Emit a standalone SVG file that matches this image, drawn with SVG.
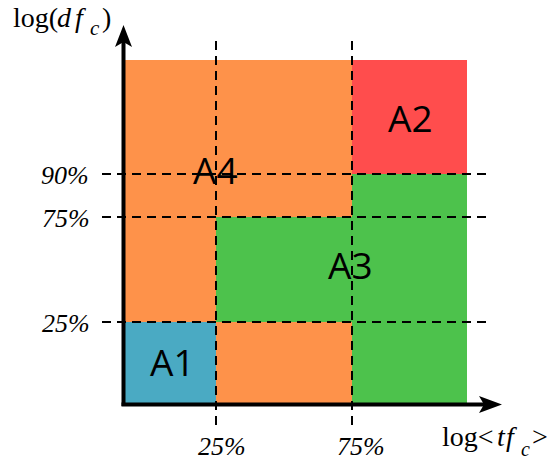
<svg xmlns="http://www.w3.org/2000/svg" width="556" height="461" viewBox="0 0 556 461">
<style>
.orange{fill:#FE924A}
.red{fill:#FF4D4D}
.green{fill:#4DC24C}
.blue{fill:#4AAAC3}
.lbl{font-family:"Open Sans","Noto Sans",sans-serif;font-size:37px;fill:#000}
.math{font-family:"Liberation Serif","Times New Roman",serif;font-size:28px;fill:#000}
.it{font-style:italic}
.sub{font-style:italic;font-size:21px}
.sub2{font-style:italic;font-size:20px}
.tick{font-family:"Liberation Serif","Times New Roman",serif;font-size:26px;font-style:italic;fill:#000}
.dash{stroke:#000;stroke-width:2;stroke-dasharray:9 6;fill:none}
.axis{stroke:#000;stroke-width:4;fill:none}
</style>
<rect width="556" height="461" fill="#fff"/>
<g id="A4">
<rect class="orange" x="123" y="60" width="229" height="344"/>
<text class="lbl" x="193" y="184">A4</text>
</g>
<g id="A2">
<rect class="red" x="352" y="60" width="115" height="114"/>
<text class="lbl" x="388" y="132">A2</text>
</g>
<g id="A3">
<rect class="green" x="352" y="174" width="115" height="230"/>
<rect class="green" x="216" y="217" width="136" height="105"/>
<text class="lbl" x="328" y="279">A3</text>
</g>
<g id="A1">
<rect class="blue" x="123" y="322" width="93" height="82"/>
<text class="lbl" x="150" y="376">A1</text>
</g>
<g id="connectors">
<path class="dash" d="M216,425 V40"/>
<path class="dash" d="M352,425 V40"/>
<path class="dash" d="M102,174 H488"/>
<path class="dash" d="M102,217 H488"/>
<path class="dash" d="M102,322 H488"/>
<path class="axis" d="M123.5,406 V42"/>
<path class="axis" d="M121.5,404.5 H484"/>
<path d="M123.5,25 L132,47 L123.5,42 L115,47 Z" fill="#000"/>
<path d="M502,404.5 L479,396 L484,404.5 L479,413 Z" fill="#000"/>
</g>
<g id="labels">
<text class="math" y="27"><tspan x="13">log(</tspan><tspan class="it" x="57">d</tspan><tspan class="it" x="75">f</tspan><tspan class="sub" x="90" y="35">c</tspan><tspan x="102" y="27">)</tspan></text>
<text class="math" y="446"><tspan x="442">log&lt;</tspan><tspan class="it" x="497">t</tspan><tspan class="it" x="506">f</tspan><tspan class="sub2" x="521" y="456">c</tspan><tspan x="532" y="446">&gt;</tspan></text>
<text class="tick" x="41" y="184">90%</text>
<text class="tick" x="42" y="227">75%</text>
<text class="tick" x="42" y="332">25%</text>
<text class="tick" x="198" y="455">25%</text>
<text class="tick" x="337" y="455">75%</text>
</g>
</svg>
